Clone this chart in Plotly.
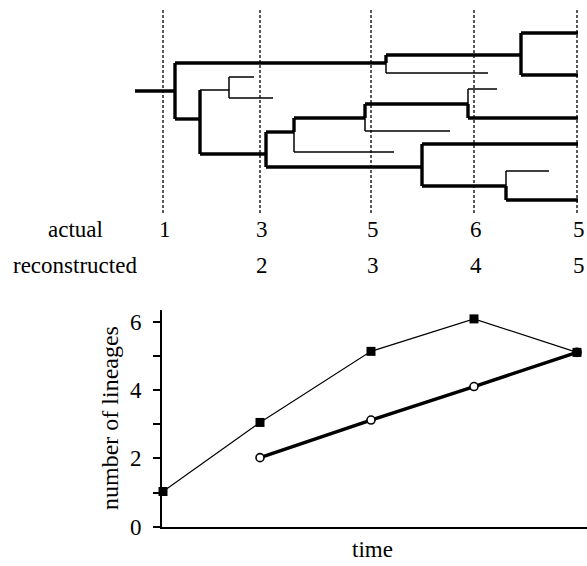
import plotly.graph_objects as go

W, H = 587, 566
FONT = "Liberation Serif"

# --- data -----------------------------------------------------------------
sample_times = [1, 98, 209, 312, 415]          # time of each census (dashed lines)
actual_counts_label = ["1", "3", "5", "6", "5"]
recon_counts_label = ["", "2", "3", "4", "5"]
actual_lineages = [1.03, 3.05, 5.13, 6.08, 5.10]
recon_times = sample_times[1:]
recon_lineages = [2.02, 3.12, 4.10, 5.10]

# tree branches: horizontal (t_start, t_end, row), vertical (t, row_top, row_bottom)
# "thick" = surviving lineages (reconstructed tree), "thin" = extinct lineages
horiz_thick = [(-27, 13, 91), (13, 224, 63), (224, 359, 55), (359, 416, 33),
               (359, 416, 75), (13, 38, 119), (38, 104, 154), (104, 132, 132),
               (132, 203, 118), (203, 306, 104), (306, 416, 118), (104, 260, 167),
               (260, 416, 144), (260, 344, 186), (344, 416, 200)]
horiz_thin = [(224, 326, 73), (38, 67, 90), (67, 92, 77), (67, 111, 98),
              (306, 335, 89), (203, 288, 131), (132, 232, 152), (344, 387, 171)]
vert_thick = [(13, 63, 119), (224, 55, 63), (359, 33, 75), (38, 90, 154),
              (104, 132, 167), (132, 118, 132), (203, 104, 118), (306, 104, 118),
              (260, 144, 186), (344, 186, 200)]
vert_thin = [(224, 63, 73), (67, 77, 98), (132, 132, 152), (203, 118, 131),
             (306, 89, 104), (344, 171, 186)]
dash_top, dash_bottom = 10, 215

# --- helpers --------------------------------------------------------------
def seg_xy(horiz, vert):
    xs, ys = [], []
    for t0, t1, r in horiz:
        xs += [t0, t1, None]
        ys += [r, r, None]
    for t, r0, r1 in vert:
        xs += [t, t, None]
        ys += [r0, r1, None]
    return xs, ys

fig = go.Figure()

# dashed census lines
dx, dy = [], []
for t in sample_times:
    dx += [t, t, None]
    dy += [dash_top, dash_bottom, None]
fig.add_trace(go.Scatter(x=dx, y=dy, mode="lines", xaxis="x2", yaxis="y2",
                         line=dict(color="black", width=1.3, dash="3px,2px"),
                         hoverinfo="skip", showlegend=False))

for (h, v, w) in [(horiz_thin, vert_thin, 1.5), (horiz_thick, vert_thick, 3.4)]:
    xs, ys = seg_xy(h, v)
    fig.add_trace(go.Scatter(x=xs, y=ys, mode="lines", xaxis="x2", yaxis="y2",
                             line=dict(color="black", width=w),
                             hoverinfo="skip", showlegend=False))

# lineage-through-time plot
fig.add_trace(go.Scatter(x=recon_times, y=recon_lineages, mode="lines+markers",
                         line=dict(color="black", width=3.5),
                         marker=dict(symbol="circle", size=8, color="white",
                                     line=dict(color="black", width=1.6)),
                         cliponaxis=False, showlegend=False))
fig.add_trace(go.Scatter(x=sample_times, y=actual_lineages, mode="lines+markers",
                         line=dict(color="black", width=1.1),
                         marker=dict(symbol="square", size=9, color="black"),
                         cliponaxis=False, showlegend=False))

# --- layout ---------------------------------------------------------------
def py(p):  # pixel row -> paper y
    return 1 - p / H

x_left, tree_left = 162, 130
x_span = 425
y_bottom_px, y_top_px = 526.7, 310
y_range_top = 6.34

annotations = [
    dict(text="actual", x=75 / W, y=py(229), xref="paper", yref="paper"),
    dict(text="reconstructed", x=75 / W, y=py(265), xref="paper", yref="paper"),
    dict(text="number of lineages", x=110 / W, y=py(418), xref="paper", yref="paper",
         textangle=-90, font_size=24),
    dict(text="time", x=372 / W, y=py(549), xref="paper", yref="paper"),
]
for t, a, r in zip(sample_times, actual_counts_label, recon_counts_label):
    annotations.append(dict(text=a, x=t + 2, y=py(229), xref="x2", yref="paper"))
    if r:
        annotations.append(dict(text=r, x=t + 2, y=py(265), xref="x2", yref="paper"))
for a in annotations:
    size = a.pop("font_size", 23)
    a.update(showarrow=False, xanchor="center", yanchor="middle",
             font=dict(family=FONT, size=size, color="black"))

fig.update_layout(
    width=W, height=H, margin=dict(l=0, r=0, t=0, b=0, autoexpand=False),
    paper_bgcolor="white", plot_bgcolor="rgba(0,0,0,0)",
    font=dict(family=FONT, size=23, color="black"),
    xaxis=dict(domain=[x_left / W, 1], range=[0, x_span], anchor="y",
               showline=True, linecolor="black", linewidth=2, automargin=False,
               showticklabels=False, ticks="", showgrid=False, zeroline=False),
    yaxis=dict(domain=[py(y_bottom_px), py(y_top_px)], range=[0, y_range_top],
               anchor="x", showline=True, linecolor="black", linewidth=2,
               automargin=False,
               tickvals=[0, 1, 2, 3, 4, 5, 6],
               ticktext=["0", "", "2", "", "4", "", "6"],
               ticks="outside", ticklen=7, tickwidth=2, tickcolor="black",
               ticklabelstandoff=7,
               showgrid=False, zeroline=False,
               tickfont=dict(family=FONT, size=23, color="black")),
    xaxis2=dict(domain=[tree_left / W, 1], range=[tree_left - x_left, x_span],
                anchor="y2", visible=False, automargin=False),
    yaxis2=dict(domain=[0, 1], range=[H, 0], anchor="x2", visible=False,
                automargin=False),
    annotations=annotations,
)

fig.write_html("out.html")
